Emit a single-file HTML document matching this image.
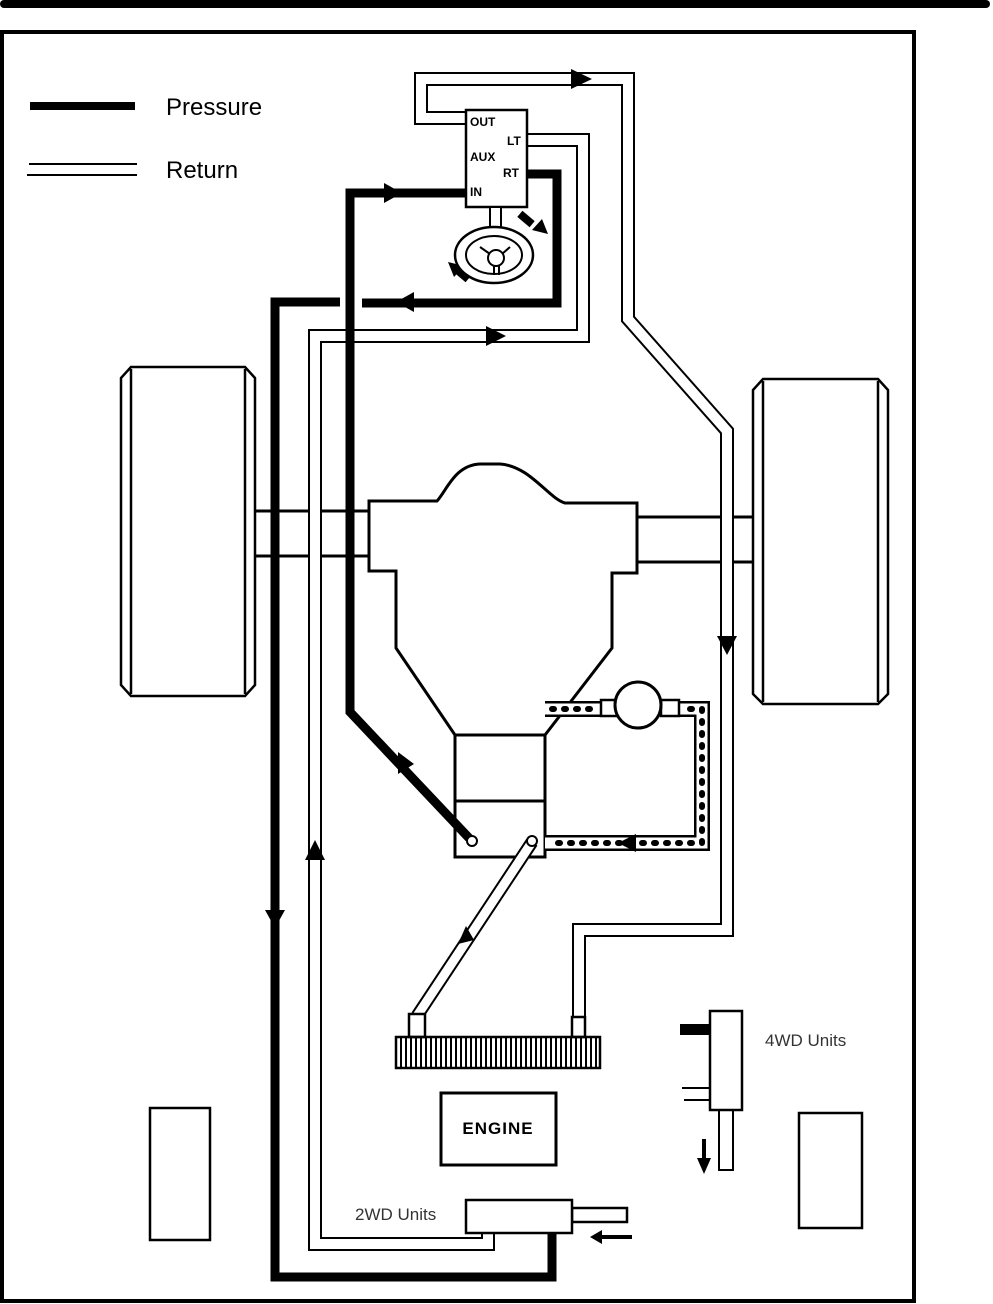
<!DOCTYPE html>
<html><head><meta charset="utf-8"><style>
html,body{margin:0;padding:0;background:#fff;}
svg{display:block;}
text{font-family:"Liberation Sans",Arial,sans-serif;}
</style></head><body>
<svg width="993" height="1304" viewBox="0 0 993 1304" xmlns="http://www.w3.org/2000/svg">
<defs>
<pattern id="hatch" width="5" height="40" patternUnits="userSpaceOnUse">
<rect x="0" y="0" width="2" height="40" fill="#000"/>
</pattern>
</defs>
<rect x="0" y="0" width="993" height="1304" fill="#fff"/>
<rect x="0" y="0" width="990" height="8" rx="4" fill="#000"/>
<rect x="2" y="32" width="912" height="1269" fill="none" stroke="#000" stroke-width="4"/>

<!-- legend -->
<rect x="30" y="102" width="105" height="8" fill="#000"/>
<line x1="29" y1="164" x2="137" y2="164" stroke="#000" stroke-width="2"/>
<line x1="27" y1="175" x2="137" y2="175" stroke="#000" stroke-width="2"/>
<text x="166" y="115" font-size="24">Pressure</text>
<text x="166" y="178" font-size="24">Return</text>

<!-- wheels -->
<g fill="#fff" stroke="#000" stroke-width="2.5">
<path d="M131 367 L245 367 L255 378 L255 685 L245 696 L131 696 L121 685 L121 378 Z"/>
<line x1="131" y1="369" x2="131" y2="694"/><line x1="245" y1="369" x2="245" y2="694"/>
<path d="M763 379 L878 379 L888 390 L888 694 L878 704 L763 704 L753 694 L753 390 Z"/>
<line x1="763" y1="381" x2="763" y2="702"/><line x1="878" y1="381" x2="878" y2="702"/>
</g>

<!-- axle shafts -->
<g stroke="#000" stroke-width="3">
<line x1="255" y1="511" x2="369" y2="511"/>
<line x1="255" y1="556" x2="369" y2="556"/>
<line x1="637" y1="517" x2="753" y2="517"/>
<line x1="637" y1="562" x2="753" y2="562"/>
</g>

<!-- housing -->
<path d="M369 501 L437 501 C447 490 455 465 480 464 L500 464 C530 466 548 498 565 503 L637 503 L637 573 L612 573 L612 648 L545 735 L455 735 L396 648 L396 571 L369 571 Z" fill="#fff" stroke="#000" stroke-width="3"/>
<rect x="455" y="735" width="90" height="122" fill="#fff" stroke="#000" stroke-width="3"/>
<line x1="455" y1="801" x2="545" y2="801" stroke="#000" stroke-width="3"/>

<!-- dotted lines -->
<g fill="none">
<path d="M545 709 L602 709 M678 709 L702 709 L702 843 L545 843" stroke="#000" stroke-width="16"/>
<path d="M545 709 L602 709 M678 709 L702 709 L702 843 L545 843" stroke="#fff" stroke-width="11"/>
<path d="M552 709 L600 709 M690 709 L702 709 L702 843 L550 843" stroke="#000" stroke-width="6" stroke-dasharray="2 10" stroke-linecap="round"/>
</g>
<rect x="601" y="700" width="16" height="16" fill="#fff" stroke="#000" stroke-width="2.5"/>
<rect x="661" y="700" width="18" height="16" fill="#fff" stroke="#000" stroke-width="2.5"/>
<circle cx="638" cy="705" r="23" fill="#fff" stroke="#000" stroke-width="3"/>
<polygon points="618,843 636,834 636,852" fill="#000"/>

<!-- return lines (double) -->
<g fill="none" stroke-linejoin="miter">
<path d="M466 118 L421 118 L421 79 L628 79 L628 319 L727 431 L727 930 L579 930 L579 1018" stroke="#000" stroke-width="14"/>
<path d="M466 118 L421 118 L421 79 L628 79 L628 319 L727 431 L727 930 L579 930 L579 1018" stroke="#fff" stroke-width="10"/>
<path d="M527 140 L583 140 L583 336 L315 336 L315 1244 L488 1244 L488 1230" stroke="#000" stroke-width="14"/>
<path d="M527 140 L583 140 L583 336 L315 336 L315 1244 L488 1244 L488 1230" stroke="#fff" stroke-width="10"/>
<path d="M417 1016 L532 842" stroke="#000" stroke-width="13"/>
<path d="M417 1016 L532 842" stroke="#fff" stroke-width="9"/>
</g>
<circle cx="532" cy="841" r="5" fill="#fff" stroke="#000" stroke-width="2"/>

<!-- pressure lines -->
<g fill="none" stroke="#000" stroke-width="9" stroke-linejoin="miter">
<path d="M466 193 L350 193 L350 712 L469 838"/>
<path d="M527 174 L557 174 L557 303 L362 303"/>
<path d="M340 302 L275 302 L275 1277 L552 1277 L552 1232"/>
</g>
<circle cx="472" cy="841" r="5" fill="#fff" stroke="#000" stroke-width="2"/>

<!-- arrows -->
<g fill="#000">
<polygon points="592,79 571,69 571,89"/>
<polygon points="402,193 384,183 384,203"/>
<polygon points="396,302 414,292 414,312"/>
<polygon points="506,336 486,326 486,346"/>
<polygon points="727,655 717,636 737,636"/>
<polygon points="398,752 414,764 398,774"/>
<polygon points="275,928 265,910 285,910"/>
<polygon points="315,840 305,860 325,860"/>
<polygon points="458,944 466,926 474,940"/>
<polygon points="590,1237 602,1230 602,1244"/>
<rect x="602" y="1235" width="30" height="4"/>
<polygon points="704,1174 697,1158 711,1158"/>
<rect x="702" y="1139" width="4" height="20"/>
<!-- steering arrows -->
<polygon points="548,234 532,230 542,219"/>
<rect x="522" y="211" width="8" height="16" transform="rotate(-50 526 219)"/>
<polygon points="448,262 464,266 454,277"/>
<rect x="458" y="266" width="8" height="16" transform="rotate(-50 462 274)"/>
</g>

<!-- valve box -->
<rect x="466" y="110" width="61" height="97" fill="#fff" stroke="#000" stroke-width="2.5"/>
<g font-size="12" font-weight="bold">
<text x="470" y="126">OUT</text>
<text x="507" y="145">LT</text>
<text x="470" y="161">AUX</text>
<text x="503" y="177">RT</text>
<text x="470" y="196">IN</text>
</g>
<rect x="490" y="207" width="11" height="22" fill="#fff" stroke="#000" stroke-width="2"/>
<ellipse cx="494" cy="255" rx="39" ry="28" fill="#fff" stroke="#000" stroke-width="2.5"/>
<ellipse cx="494" cy="255" rx="28" ry="19" fill="#fff" stroke="#000" stroke-width="2"/>
<circle cx="496" cy="258" r="8" fill="#fff" stroke="#000" stroke-width="2"/>
<path d="M480 247 L490 254 M510 247 L502 254 M494 266 L494 275 M499 266 L499 275" stroke="#000" stroke-width="2"/>

<!-- cooler -->
<rect x="409" y="1014" width="16" height="23" fill="#fff" stroke="#000" stroke-width="2.5"/>
<rect x="572" y="1017" width="13" height="20" fill="#fff" stroke="#000" stroke-width="2.5"/>
<rect x="396" y="1037" width="204" height="31" fill="url(#hatch)" stroke="#000" stroke-width="2.5"/>

<!-- engine -->
<rect x="441" y="1093" width="115" height="72" fill="#fff" stroke="#000" stroke-width="3"/>
<text x="498" y="1134" font-size="17" font-weight="bold" text-anchor="middle" letter-spacing="1">ENGINE</text>

<!-- 2WD unit -->
<rect x="572" y="1208" width="55" height="14" fill="#fff" stroke="#000" stroke-width="2.5"/>
<rect x="466" y="1200" width="106" height="33" fill="#fff" stroke="#000" stroke-width="2.5"/>
<text x="355" y="1220" font-size="17" fill="#333">2WD Units</text>

<!-- 4WD unit -->
<rect x="680" y="1024" width="30" height="11" fill="#000"/>
<line x1="682" y1="1088" x2="710" y2="1088" stroke="#000" stroke-width="2"/>
<line x1="684" y1="1100" x2="710" y2="1100" stroke="#000" stroke-width="2"/>
<rect x="719" y="1110" width="14" height="60" fill="#fff" stroke="#000" stroke-width="2"/>
<rect x="710" y="1011" width="32" height="99" fill="#fff" stroke="#000" stroke-width="2.5"/>
<text x="765" y="1046" font-size="17" fill="#333">4WD Units</text>

<!-- rear tires -->
<rect x="150" y="1108" width="60" height="132" fill="#fff" stroke="#000" stroke-width="2.5"/>
<rect x="799" y="1113" width="63" height="115" fill="#fff" stroke="#000" stroke-width="2.5"/>
</svg>
</body></html>
